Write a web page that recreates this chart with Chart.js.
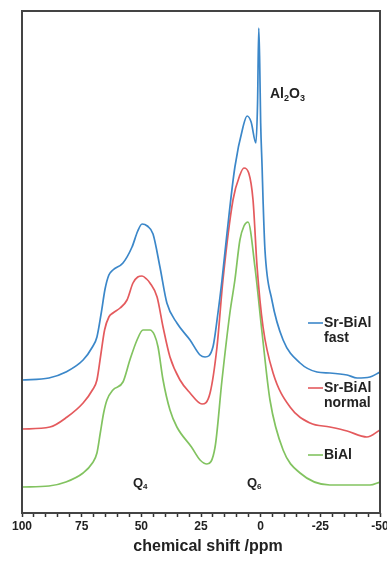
<!DOCTYPE html>
<html>
<head>
<meta charset="utf-8">
<script src="https://cdn.jsdelivr.net/npm/chart.js@4.4.1/dist/chart.umd.min.js"></script>
<style>
    html, body { margin: 0; padding: 0; background: #fff; }
    #wrap { width: 387px; height: 562px; }
</style>
</head>
<body>
<div id="wrap"><canvas id="nmr" width="387" height="562"></canvas></div>
<script>
// Nombres y colores de las series (el orden es de arriba a abajo)
const seriesNames = [['Sr-BiAl', 'fast'], ['Sr-BiAl', 'normal'], ['BiAl']];
const seriesColors = ['#3b87c9', '#e45a5d', '#82c360'];

// Sr-BiAl fast: desplazamiento (ppm) e intensidad
const fastShift = [100, 88.7, 81.6, 74.4, 70.5, 68.6, 66.8, 65.2, 63.6, 61.9, 57.7, 53.9, 51.5, 49.7, 47.5, 45.1, 42.2, 39.3, 35.1, 29.6, 25.4, 23.3, 20.0, 17.9, 16.2, 14.1, 10.8, 7.4, 5.7, 4.0, 2.0, 1.3, 0.8, 0.4, 0.0, -0.6, -1.0, -1.8, -4.7, -9.4, -16.5, -23.6, -29.0, -36.2, -40.4, -45.8, -50];
const fastIntensity = [133, 135, 141, 153, 166, 176, 200, 224, 238, 243, 250, 266, 282, 289, 287, 279, 246, 210, 190, 173, 158, 156, 166, 200, 233, 280, 346, 386, 397, 391, 370, 410, 485, 450, 390, 346, 313, 263, 213, 173, 150, 141, 140, 138, 135, 136, 141];

// Sr-BiAl normal
const normalShift = [100, 88.3, 81.1, 74.4, 70.5, 68.6, 67.0, 65.4, 63.6, 61.9, 58.9, 56.0, 53.5, 51.5, 49.7, 47.8, 46.4, 43.4, 40.9, 38.0, 33.8, 29.6, 24.6, 21.2, 18.3, 15.8, 11.6, 8.7, 7.0, 5.0, 3.2, 1.5, -1.0, -5.2, -12.3, -20.7, -29.0, -36.2, -44.5, -50];
const normalIntensity = [84, 86, 96, 110, 123, 133, 158, 183, 196, 200, 205, 213, 230, 236, 237, 234, 230, 216, 186, 156, 133, 120, 109, 120, 166, 233, 313, 338, 345, 340, 313, 246, 186, 140, 106, 90, 86, 82, 76, 83];

// BiAl
const bialShift = [100, 88.7, 81.6, 74.4, 70.5, 68.6, 67.2, 65.8, 64.4, 61.9, 57.7, 54.8, 51.8, 49.3, 46.4, 44.5, 43.0, 40.9, 38.0, 35.1, 29.0, 25.4, 22.5, 19.1, 16.2, 12.9, 10.8, 8.7, 7.0, 5.3, 2.4, -0.6, -3.9, -9.4, -16.5, -29.0, -36.2, -45.8, -50];
const bialIntensity = [26, 27, 31, 40, 50, 60, 80, 100, 113, 123, 131, 153, 173, 183, 183, 178, 166, 133, 103, 86, 66, 53, 49, 66, 133, 200, 233, 273, 287, 291, 246, 180, 113, 63, 40, 28, 28, 28, 31];

// Marcas del eje x con etiqueta
const xTicks = [100, 75, 50, 25, 0, -25, -50];
const xTitle = 'chemical shift /ppm';

const shifts = [fastShift, normalShift, bialShift];
const intensities = [fastIntensity, normalIntensity, bialIntensity];

const FONT = "'Liberation Sans', Arial, sans-serif";

// Texto con subíndices: partes [texto, tamaño, desplazamiento vertical]
function drawParts(ctx, parts, x, y) {
    parts.forEach(([txt, size, dy]) => {
        ctx.font = `bold ${size}px ${FONT}`;
        ctx.fillText(txt, x, y + dy);
        x += ctx.measureText(txt).width;
    });
}

// Marco, leyenda, título del eje y etiquetas de los picos
const decor = {
    id: 'decor',
    afterDatasetsDraw(chart) {
        const { ctx, chartArea: a } = chart;
        ctx.save();
        ctx.strokeStyle = '#444';
        ctx.lineWidth = 2;
        ctx.strokeRect(a.left, a.top, a.right - a.left, a.bottom - a.top);

        // leyenda junto a cada curva
        const legendY = [323, 388, 455];
        ctx.textBaseline = 'middle';
        ctx.fillStyle = '#222';
        seriesNames.forEach((lines, i) => {
            ctx.strokeStyle = seriesColors[i];
            ctx.lineWidth = 1.6;
            ctx.beginPath();
            ctx.moveTo(308, legendY[i]);
            ctx.lineTo(323, legendY[i]);
            ctx.stroke();
            ctx.font = `bold 14px ${FONT}`;
            lines.forEach((t, k) => ctx.fillText(t, 324, legendY[i] + k * 15));
        });

        // título del eje x (algo desplazado a la derecha, como el original)
        ctx.font = `bold 16px ${FONT}`;
        ctx.textAlign = 'center';
        ctx.fillText(xTitle, 208, 547);
        ctx.textAlign = 'left';

        // etiquetas
        ctx.textBaseline = 'alphabetic';
        drawParts(ctx, [['Al', 14, 0], ['2', 9, 3], ['O', 14, 0], ['3', 9, 3]], 270, 98);
        drawParts(ctx, [['Q', 13, 0], ['4', 8, 2]], 133, 487);
        drawParts(ctx, [['Q', 13, 0], ['6', 8, 2]], 247, 487);
        ctx.restore();
    }
};

document.addEventListener('DOMContentLoaded', function() {
    const datasets = seriesNames.map((name, i) => ({
        label: name.join(' '),
        data: shifts[i].map((s, j) => ({ x: s, y: intensities[i][j] })),
        borderColor: seriesColors[i],
        borderWidth: 1.7,
        pointRadius: 0,
        cubicInterpolationMode: 'monotone',
        fill: false
    }));

    new Chart(document.getElementById('nmr'), {
        type: 'line',
        data: { datasets },
        options: {
            responsive: false,
            animation: false,
            layout: { padding: { left: 22, right: 7, top: 11, bottom: 0 } },
            plugins: {
                legend: { display: false },
                tooltip: { enabled: false }
            },
            scales: {
                x: {
                    type: 'linear',
                    reverse: true,
                    min: -50,
                    max: 100,
                    border: { display: false },
                    grid: {
                        drawOnChartArea: false,
                        drawTicks: true,
                        tickLength: 4,
                        tickColor: '#333',
                        tickWidth: 1.5
                    },
                    ticks: {
                        stepSize: 5,
                        autoSkip: false,
                        maxRotation: 0,
                        padding: 2,
                        color: '#222',
                        font: { family: FONT, size: 12, weight: 'bold' },
                        callback: v => xTicks.includes(v) ? String(v) : ''
                    },
                    title: { display: false },
                    afterFit(scale) {
                        scale.height = 49;
                        scale.paddingLeft = 0;
                        scale.paddingRight = 0;
                    }
                },
                y: {
                    display: false,
                    min: 0,
                    max: 502
                }
            }
        },
        plugins: [decor]
    });
});
</script>
</body>
</html>
